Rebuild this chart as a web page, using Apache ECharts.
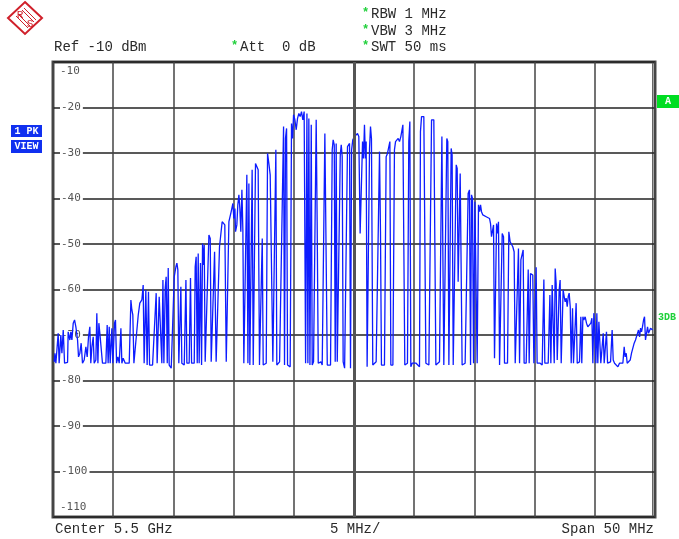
<!DOCTYPE html>
<html><head><meta charset="utf-8">
<script src="https://cdn.jsdelivr.net/npm/echarts@6/dist/echarts.min.js"></script>
<style>html,body{margin:0;padding:0;background:#fff}#c{width:679px;height:539px}</style>
</head><body><div id="c"></div>
<script>
// Frequency offset from centre (MHz) and trace level (dBm)
const freqOffsetMHz = [
-24.90,-24.84,-24.76,-24.62,-24.57,-24.49,-24.35,-24.26,-24.15,-24.04,-23.93,-23.79,-23.74,-23.60,-23.52,-23.43,-23.32,-23.21,-23.10,-22.96,
-22.88,-22.77,-22.66,-22.55,-22.41,-22.27,-22.16,-22.05,-21.94,-21.86,-21.77,-21.66,-21.58,-21.44,-21.36,-21.27,-21.19,-21.11,-21.03,-20.89,
-20.75,-20.61,-20.50,-20.42,-20.33,-20.25,-20.11,-20.03,-19.89,-19.81,-19.72,-19.61,-19.50,-19.36,-19.28,-19.17,-19.00,-18.67,-18.53,-18.45,
-18.37,-18.28,-18.12,-17.92,-17.79,-17.67,-17.62,-17.51,-17.43,-17.29,-17.18,-17.07,-16.98,-16.73,-16.57,-16.43,-16.35,-16.18,-16.04,-15.96,
-15.87,-15.79,-15.68,-15.60,-15.51,-15.43,-15.35,-15.18,-15.02,-14.93,-14.79,-14.71,-14.63,-14.55,-14.38,-14.30,-14.10,-13.96,-13.88,-13.69,
-13.58,-13.49,-13.27,-13.19,-13.11,-13.02,-12.94,-12.86,-12.75,-12.66,-12.58,-12.50,
-12.44,-12.36,-12.22,-12.14,-12.05,-11.94,-11.86,-11.72,-11.58,-11.50,-11.45,-11.31,-11.17,-11.03,-10.95,-10.84,-10.73,-10.61,-10.48,-10.39,
-10.28,-10.20,-10.06,-9.98,-9.89,-9.84,-9.73,-9.65,-9.56,-9.48,-9.40,-9.31,-9.23,-9.15,-9.01,-8.90,-8.81,-8.73,-8.65,-8.54,
-8.46,-8.37,-8.26,-8.18,-8.07,-7.96,-7.85,-7.74,-7.62,-7.54,-7.43,-7.29,-7.18,-7.07,-6.96,-6.85,-6.74,-6.60,-6.49,-6.41,
-6.30,-6.18,-6.05,-5.85,-5.77,-5.69,-5.60,-5.52,-5.41,-5.30,-5.19,-5.10,-5.02,-4.91,-4.80,-4.69,-4.58,-4.47,-4.36,-4.25,
-4.14,-4.02,-3.91,-3.83,-3.75,-3.66,-3.55,-3.47,-3.36,-3.25,-3.14,-3.06,-2.97,-2.86,-2.75,-2.64,-2.53,-2.42,-2.31,-2.22,
-2.09,-1.95,-1.81,-1.73,-1.64,-1.56,-1.48,-1.39,-1.26,-1.14,-1.06,-0.98,-0.90,-0.78,-0.65,-0.54,-0.45,-0.37,-0.29,-0.20,
-0.10,0.04,0.18,0.29,0.40,0.51,0.62,0.71,0.79,0.87,0.95,1.01,1.09,1.20,1.29,1.37,1.45,1.56,1.70,1.84,
1.98,2.12,2.20,2.28,2.40,2.53,2.67,2.78,2.89,2.98,3.06,3.23,3.36,3.45,3.56,3.67,3.78,3.89,3.97,4.06,
4.14,4.22,4.33,4.44,4.55,4.64,4.72,4.83,4.94,5.16,5.30,5.44,5.52,5.61,5.72,5.80,5.88,5.97,6.08,6.22,
6.35,6.44,6.55,6.63,6.71,6.80,6.94,7.10,7.21,7.30,7.38,7.46,7.60,7.71,7.79,7.88,7.99,8.07,8.15,8.24,
8.38,8.49,8.57,8.65,8.74,8.82,8.90,8.98,9.12,9.23,9.37,9.48,9.59,9.68,9.76,9.84,9.93,10.04,10.15,10.23,
10.34,10.43,10.51,10.59,10.70,10.84,10.98,11.12,11.26,11.34,11.42,11.50,11.59,11.67,11.75,11.84,11.92,12.00,12.09,
12.31,12.42,12.50,12.58,12.75,12.86,12.97,13.08,13.19,13.30,13.39,13.52,13.66,13.75,13.86,13.97,14.05,14.13,14.30,14.47,
14.55,14.66,14.74,14.85,14.94,15.05,15.13,15.21,15.32,15.46,15.63,15.77,15.85,15.99,16.13,16.27,16.35,16.46,16.54,16.63,
16.71,16.79,16.88,16.96,17.04,17.12,17.21,17.29,17.37,17.46,17.54,17.62,17.71,17.79,17.87,17.96,18.04,18.15,18.23,18.34,
18.45,18.54,18.65,18.73,18.84,18.92,19.01,19.09,19.20,19.31,19.42,19.56,19.67,19.76,19.84,19.92,20.00,20.09,20.17,20.25,
20.34,20.42,20.50,20.61,20.70,20.78,20.89,20.97,21.06,21.17,21.31,21.44,21.53,21.64,21.78,21.92,22.05,22.19,22.33,22.44,
22.52,22.61,22.69,22.83,22.94,23.05,23.16,23.27,23.38,23.47,23.55,23.63,23.72,23.80,23.88,23.96,24.05,24.13,24.21,24.30,
24.38,24.46,24.55,24.63,24.71,24.80
];
const levelDbm = [
-75.9,-74.0,-76.2,-76.2,-69.6,-76.2,-70.0,-74.0,-68.9,-76.2,-76.2,-76.0,-69.3,-71.1,-69.3,-71.1,-67.4,-66.7,-68.2,-71.1,
-74.8,-74.0,-71.8,-76.2,-75.5,-72.6,-74.8,-70.4,-68.2,-76.2,-72.6,-70.4,-76.2,-75.5,-65.2,-76.2,-67.4,-69.6,-70.0,-76.2,
-75.9,-76.2,-67.8,-76.2,-68.2,-76.2,-68.5,-76.2,-67.4,-66.7,-76.2,-74.8,-76.2,-68.5,-76.2,-75.1,-76.2,-76.2,-62.3,-64.5,
-65.6,-76.2,-76.2,-65.6,-63.0,-63.4,-62.3,-59.0,-76.2,-60.1,-76.6,-60.5,-76.6,-76.6,-76.2,-60.8,-76.2,-61.6,-61.2,-76.2,
-57.9,-76.2,-59.7,-57.2,-76.2,-55.3,-76.6,-77.3,-77.0,-57.2,-55.0,-54.2,-55.7,-76.2,-59.4,-76.2,-76.6,-57.9,-76.2,-76.2,
-57.5,-76.2,-76.2,-55.0,-52.8,-76.2,-52.1,-76.2,-54.2,-76.6,-49.9,-54.6,
-50.2,-75.9,-75.9,-56.1,-48.0,-48.8,-75.9,-75.9,-51.7,-51.3,-75.9,-75.9,-50.6,-50.2,-45.1,-45.1,-45.8,-75.9,-75.9,-45.1,
-45.5,-42.9,-41.1,-44.4,-42.2,-47.3,-45.8,-41.4,-39.2,-42.2,-47.3,-38.1,-46.9,-76.2,-76.2,-34.8,-76.2,-36.7,-76.6,-76.6,
-33.7,-76.6,-76.6,-32.3,-31.9,-33.7,-76.6,-76.6,-48.8,-76.6,-76.6,-76.2,-30.1,-32.3,-34.8,-34.5,-75.9,-75.9,-29.3,-76.6,
-76.6,-75.9,-76.2,-24.2,-76.6,-26.8,-24.6,-76.6,-76.2,-77.0,-23.5,-26.8,-21.6,-22.7,-24.9,-22.4,-21.3,-22.0,-20.9,-22.7,
-20.9,-76.2,-21.3,-76.2,-22.4,-76.6,-23.8,-76.6,-75.9,-76.2,-22.7,-45.1,-76.2,-76.2,-75.9,-76.6,-76.6,-25.7,-25.7,-76.6,
-76.2,-76.6,-29.3,-27.1,-28.2,-75.9,-27.9,-75.9,-75.9,-30.4,-28.2,-30.8,-75.9,-77.3,-77.3,-28.6,-28.2,-27.9,-77.3,-29.3,
-27.1,-26.4,-26.8,-25.7,-26.4,-47.7,-47.7,-27.5,-31.2,-23.8,-31.2,-27.5,-77.0,-77.0,-29.0,-24.2,-26.8,-76.6,-76.2,-75.9,
-76.2,-29.7,-47.3,-76.6,-76.2,-76.6,-30.8,-30.1,-30.4,-27.5,-76.6,-76.6,-29.3,-27.5,-27.5,-26.8,-27.5,-26.4,-26.8,-23.8,
-51.0,-76.6,-76.6,-76.2,-27.5,-23.1,-77.0,-76.2,-76.6,-76.2,-75.9,-77.0,-25.3,-22.0,-22.4,-22.0,-21.6,-76.2,-76.6,-76.6,
-76.6,-22.7,-23.1,-22.7,-22.4,-76.6,-76.2,-75.9,-76.2,-26.4,-26.8,-76.6,-76.6,-26.8,-27.5,-76.6,-76.6,-29.0,-30.4,-76.6,
-76.6,-32.6,-33.4,-58.3,-58.6,-34.5,-34.8,-76.6,-76.6,-76.2,-75.9,-38.9,-38.1,-76.6,-39.2,-40.0,-76.2,-40.7,-41.1,-76.2,
-41.4,-42.9,-41.4,-42.9,-43.6,-44.0,-44.0,-44.0,-44.4,-45.5,-48.4,-48.4,-45.8,-75.1,-75.5,-45.5,-47.7,-45.1,-76.6,
-47.7,-48.4,-76.2,-76.2,-76.2,-47.3,-49.5,-49.1,-50.6,-51.7,-76.2,-76.2,-51.0,-76.2,-53.5,-53.2,-51.3,-76.2,-76.2,-55.6,
-76.2,-56.5,-56.8,-56.8,-76.2,-76.2,-55.1,-76.2,-76.6,-76.2,-76.6,-57.8,-76.2,-76.6,-76.2,-61.2,-76.2,-59.0,-59.0,-76.2,
-55.4,-58.7,-75.5,-75.5,-60.1,-57.9,-76.2,-75.9,-60.1,-61.6,-62.7,-61.9,-63.8,-61.6,-60.8,-63.8,-76.2,-64.1,-76.2,-76.2,
-63.0,-76.2,-76.2,-75.9,-66.0,-76.2,-66.0,-66.7,-66.0,-67.4,-68.2,-68.5,-67.4,-66.3,-76.2,-65.2,-68.9,-76.2,-65.2,-76.2,
-67.1,-67.4,-76.2,-76.2,-69.6,-76.2,-76.2,-69.3,-76.2,-76.2,-75.9,-68.9,-75.5,-76.2,-76.6,-77.0,-76.2,-75.9,-76.2,-72.6,
-74.8,-74.0,-76.2,-76.6,-75.5,-74.0,-72.9,-71.8,-71.1,-71.5,-69.6,-68.9,-70.4,-68.5,-69.3,-68.2,-66.7,-66.0,-71.1,-71.1,
-68.2,-69.6,-69.3,-68.5,-68.9,-68.9
];
const yTicks = [-110,-100,-90,-80,-70,-60,-50,-40,-30,-20,-10];
const headerRef = 'Ref -10 dBm';
const headerAtt = 'Att  0 dB';
const headerBw = ['RBW 1 MHz', 'VBW 3 MHz', 'SWT 50 ms'];
const footer = ['Center 5.5 GHz', '5 MHz/', 'Span 50 MHz'];
const sideLabels = ['1 PK', 'VIEW', 'A', '3DB'];

const data = freqOffsetMHz.map((f, i) => [f, levelDbm[i]]);
const mono = 'Liberation Mono, Courier New, monospace';
const green = '#1fd03a';
const red = '#d0202a';
const txt = (text, x, y, extra) => Object.assign({type:'text', x, y, silent:true,
  style: Object.assign({text, fill:'#2a2a2a', font:'14px ' + mono, textVerticalAlign:'middle'}, extra || {})});
const star = (x, y) => txt('*', x, y, {fill:green, font:'bold 12px ' + mono});

const chart = echarts.init(document.getElementById('c'), null, {renderer:'canvas'});
chart.setOption({
  animation: false,
  backgroundColor: '#fff',
  grid: {left:53, right:24, top:62, bottom:22, show:true, borderColor:'#4a4a4a', borderWidth:3, backgroundColor:'#fff'},
  xAxis: {type:'value', min:-25, max:25, interval:5,
    axisLine:{show:false}, axisTick:{show:false}, axisLabel:{show:false},
    splitLine:{show:true, lineStyle:{color:'#444', width:1.5}}},
  yAxis: {type:'value', min:yTicks[0], max:yTicks[yTicks.length-1], interval:10,
    axisLine:{show:false}, axisTick:{show:false},
    splitLine:{show:true, lineStyle:{color:'#222', width:1.5}},
    axisLabel:{inside:true, margin:7, color:'#555', fontFamily:'DejaVu Sans Mono, monospace', fontSize:11,
      formatter: v => v === -10 ? '{t|' + v + '}' : (v === -110 ? '{b|' + v + '}' : '{g|' + v + '}'),
      rich:{
        g:{backgroundColor:'#fff', padding:[1,2,1,1], color:'#555', fontFamily:'DejaVu Sans Mono, monospace', fontSize:11},
        t:{padding:[18,0,0,0], color:'#555', fontFamily:'DejaVu Sans Mono, monospace', fontSize:11},
        b:{padding:[0,0,20,0], color:'#555', fontFamily:'DejaVu Sans Mono, monospace', fontSize:11}
      }}},
  series: [{
    type:'line', data, showSymbol:false, symbol:'none',
    lineStyle:{color:'#0d1cff', width:1.3},
    markLine:{silent:true, symbol:'none', label:{show:false}, animation:false,
      lineStyle:{color:'#555', width:3, type:'solid'}, data:[{xAxis:0}]}
  }],
  graphic: [
    // R&S logo
    {type:'polygon', shape:{points:[[25,2],[42,18],[25,34],[8,18]]}, style:{fill:'#fff', stroke:red, lineWidth:2}},
    {type:'line', shape:{x1:22,y1:10,x2:34,y2:22}, style:{stroke:red, lineWidth:1}},
    {type:'line', shape:{x1:24,y1:8,x2:36,y2:20}, style:{stroke:red, lineWidth:1}},
    {type:'line', shape:{x1:18,y1:14,x2:30,y2:26}, style:{stroke:red, lineWidth:1}},
    {type:'line', shape:{x1:16,y1:16,x2:28,y2:28}, style:{stroke:red, lineWidth:1}},
    txt('R', 20, 15, {fill:red, font:'11px ' + mono, textAlign:'center'}),
    txt('S', 30, 24, {fill:red, font:'11px ' + mono, textAlign:'center'}),
    // header
    txt(headerRef, 54, 47),
    star(231, 46),
    txt(headerAtt, 240, 47),
    star(362, 13),
    txt(headerBw[0], 371, 14),
    star(362, 30),
    txt(headerBw[1], 371, 31),
    star(362, 46),
    txt(headerBw[2], 371, 47),
    // footer
    txt(footer[0], 55, 529),
    txt(footer[1], 330, 529),
    txt(footer[2], 654, 529, {textAlign:'right'}),
    // side boxes
    {type:'rect', shape:{x:11, y:125, width:31, height:12}, style:{fill:'#1030f0'}},
    txt(sideLabels[0], 26.5, 131.5, {fill:'#fff', font:'bold 10px ' + mono, textAlign:'center'}),
    {type:'rect', shape:{x:11, y:140, width:31, height:13}, style:{fill:'#1030f0'}},
    txt(sideLabels[1], 26.5, 146.5, {fill:'#fff', font:'bold 10px ' + mono, textAlign:'center'}),
    {type:'rect', shape:{x:657, y:95, width:22, height:13}, style:{fill:'#00dd22'}},
    txt(sideLabels[2], 668, 101.5, {fill:'#fff', font:'bold 10px ' + mono, textAlign:'center'}),
    txt(sideLabels[3], 658, 317, {fill:green, font:'bold 10px ' + mono}),
    // inner right border line
    {type:'line', shape:{x1:652.5, y1:62, x2:652.5, y2:517}, style:{stroke:'#666', lineWidth:1}}
  ]
});
</script></body></html>
